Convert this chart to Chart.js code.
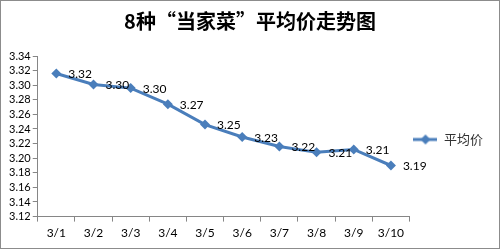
<!DOCTYPE html>
<html>
<head>
<meta charset="utf-8">
<script src="https://cdn.jsdelivr.net/npm/chart.js@4/dist/chart.umd.min.js"></script>
<style>
  html, body { margin: 0; padding: 0; background: #fff; }
  #wrap { width: 500px; height: 249px; box-sizing: border-box; border: 1px solid #8c8c8c; }
  canvas { display: block; }
</style>
</head>
<body>
<div id="wrap"><canvas id="priceChart" width="498" height="247"></canvas></div>
<script>
// Data
const days = ['3/1', '3/2', '3/3', '3/4', '3/5', '3/6', '3/7', '3/8', '3/9', '3/10'];
const avgPrice = [3.316, 3.301, 3.296, 3.274, 3.246, 3.229, 3.216, 3.208, 3.212, 3.190];
const yTicks = [3.12, 3.14, 3.16, 3.18, 3.20, 3.22, 3.24, 3.26, 3.28, 3.30, 3.32, 3.34];

const lineBlue = '#4a7ebb';
const axisGray = '#868686';
const numFont = 'Lato, "Liberation Sans", sans-serif';
const cjkFont = '"Noto Sans CJK SC", sans-serif';

// Legend marker: line with a diamond in the middle
function legendMarker() {
    const c = document.createElement('canvas');
    c.width = 24; c.height = 12;
    const g = c.getContext('2d');
    g.strokeStyle = lineBlue;
    g.lineWidth = 3;
    g.beginPath(); g.moveTo(0, 6); g.lineTo(24, 6); g.stroke();
    g.fillStyle = lineBlue;
    g.beginPath(); g.moveTo(12, 1); g.lineTo(17, 6); g.lineTo(12, 11); g.lineTo(7, 6); g.closePath(); g.fill();
    return c;
}

// Value labels to the right of each point
const valueLabels = {
    id: 'valueLabels',
    afterDatasetsDraw(chart) {
        const ctx = chart.ctx;
        const meta = chart.getDatasetMeta(0);
        ctx.save();
        ctx.font = '12px ' + numFont;
        ctx.fillStyle = '#000';
        ctx.textAlign = 'left';
        ctx.textBaseline = 'middle';
        meta.data.forEach((pt, i) => {
            const v = chart.data.datasets[0].data[i];
            ctx.fillText(v.toFixed(2), pt.x + 12, pt.y + 1);
        });
        ctx.restore();
    }
};

new Chart(document.getElementById('priceChart'), {
    type: 'line',
    data: {
        labels: days,
        datasets: [{
            label: '平均价',
            data: avgPrice,
            borderColor: lineBlue,
            backgroundColor: lineBlue,
            borderWidth: 3,
            tension: 0,
            pointStyle: 'rectRot',
            pointRadius: 5,
            pointBackgroundColor: lineBlue,
            pointBorderColor: lineBlue,
            pointBorderWidth: 0
        }]
    },
    options: {
        responsive: false,
        animation: false,
        layout: { padding: { left: 6, right: 6, top: 0, bottom: 4 } },
        plugins: {
            title: {
                display: true,
                text: '8种“当家菜”平均价走势图',
                color: '#000',
                font: { family: cjkFont, size: 20, weight: 'bold' },
                padding: { top: 8, bottom: 23 }
            },
            legend: {
                position: 'right',
                // blank legend title only pushes the entry down to the plot's middle
                title: {
                    display: true,
                    text: ' ',
                    font: { size: 10 },
                    padding: { top: 0, bottom: 22 }
                },
                labels: {
                    usePointStyle: true,
                    pointStyle: legendMarker(),
                    pointStyleWidth: 24,
                    color: '#333',
                    font: { family: cjkFont, size: 13 },
                    padding: 4
                }
            },
            tooltip: { enabled: false }
        },
        scales: {
            x: {
                offset: true,
                grid: { offset: true, drawOnChartArea: false, drawTicks: true, tickLength: 5, color: axisGray },
                border: { display: true, color: axisGray },
                ticks: { color: '#000', font: { family: numFont, size: 12 }, maxRotation: 0, padding: 4 }
            },
            y: {
                min: 3.12,
                max: 3.34,
                afterBuildTicks: (axis) => { axis.ticks = yTicks.map(v => ({ value: v })); },
                grid: { drawOnChartArea: false, drawTicks: true, tickLength: 5, color: axisGray },
                border: { display: true, color: axisGray },
                ticks: {
                    autoSkip: false,
                    color: '#000',
                    font: { family: numFont, size: 11 },
                    padding: 2,
                    callback: (v) => Number(v).toFixed(2)
                }
            }
        }
    },
    plugins: [valueLabels]
});
</script>
</body>
</html>
